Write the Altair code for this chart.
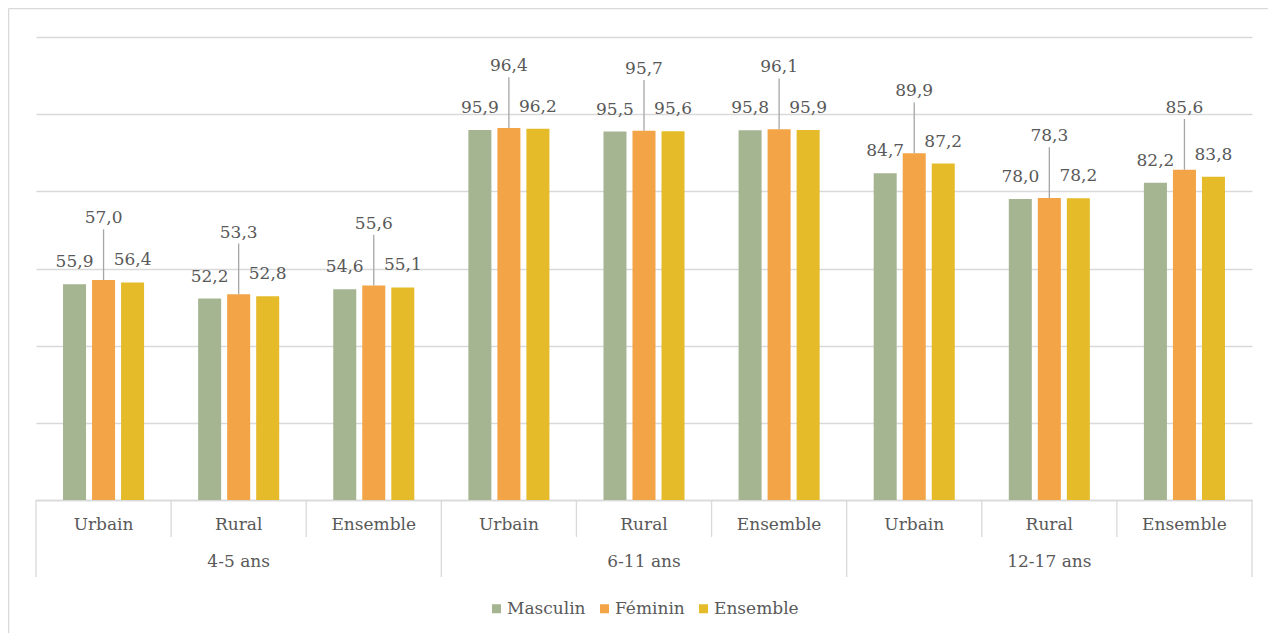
import altair as alt
import pandas as pd

groups = ["4-5 ans", "6-11 ans", "12-17 ans"]
areas = ["Urbain", "Rural", "Ensemble"]
series = ["Masculin", "Féminin", "Ensemble"]
colors = ["#A5B592", "#F2A446", "#E5BB2A"]

masculin = [55.9, 52.2, 54.6, 95.9, 95.5, 95.8, 84.7, 78.0, 82.2]
feminin = [57.0, 53.3, 55.6, 96.4, 95.7, 96.1, 89.9, 78.3, 85.6]
ensemble = [56.4, 52.8, 55.1, 96.2, 95.6, 95.9, 87.2, 78.2, 83.8]

FONT = "DejaVu Serif"
FS = 17
TXT = "#595959"
GRID = "#D9D9D9"

cats = [f"{g}|{a}" for g in groups for a in areas]

rows = []
for s, vals in zip(series, [masculin, feminin, ensemble]):
    for c, v in zip(cats, vals):
        rows.append({"cat": c, "serie": s, "value": v,
                     "label": f"{v:.1f}".replace(".", ",")})
df = pd.DataFrame(rows)

H = 463
x_scale = alt.Scale(domain=cats, paddingInner=0, paddingOuter=0)
xo_scale = alt.Scale(domain=series, paddingInner=0.207, paddingOuter=0.931)
y_scale = alt.Scale(domain=[0, 120], nice=False)

base = alt.Chart(df)

bars = base.mark_bar().encode(
    x=alt.X("cat:N", scale=x_scale, title=None,
            axis=alt.Axis(labelExpr="split(datum.value, '|')[1]", labelAngle=0,
                          labelFont=FONT, labelFontSize=FS, labelColor=TXT,
                          labelBaseline="middle", labelPadding=24,
                          ticks=False, domainColor=GRID, domainWidth=1.3,
                          grid=False)),
    xOffset=alt.XOffset("serie:N", scale=xo_scale),
    y=alt.Y("value:Q", scale=y_scale, title=None,
            axis=alt.Axis(values=[0, 20, 40, 60, 80, 100, 120], labels=False,
                          ticks=False, domain=False, grid=True,
                          gridColor=GRID, gridWidth=1.3)),
    color=alt.Color("serie:N", scale=alt.Scale(domain=series, range=colors),
                    legend=alt.Legend(title=None, orient="none", direction="horizontal",
                                      legendX=452, legendY=563, padding=0,
                                      symbolType="square", symbolSize=81,
                                      symbolStrokeWidth=0, labelOffset=2,
                                      columnPadding=10, labelFont=FONT,
                                      labelFontSize=FS, labelColor=TXT)),
)

side = base.transform_filter("datum.serie != 'Féminin'").mark_text(
    font=FONT, fontSize=FS, color=TXT, baseline="middle", dy=-22
).encode(
    x=alt.X("cat:N", scale=x_scale),
    xOffset=alt.XOffset("serie:N", scale=xo_scale),
    y=alt.Y("value:Q", scale=y_scale),
    text="label:N",
)

fem = base.transform_filter("datum.serie == 'Féminin'").transform_calculate(
    lab_y="datum.value + 16"
)
fem_text = fem.mark_text(font=FONT, fontSize=FS, color=TXT, baseline="middle").encode(
    x=alt.X("cat:N", scale=x_scale),
    xOffset=alt.XOffset("serie:N", scale=xo_scale),
    y=alt.Y("lab_y:Q", scale=y_scale),
    text="label:N",
)
fem_rule = fem.mark_rule(color="#A6A6A6", strokeWidth=1.3, y2Offset=11).encode(
    x=alt.X("cat:N", scale=x_scale),
    xOffset=alt.XOffset("serie:N", scale=xo_scale),
    y=alt.Y("value:Q", scale=y_scale),
    y2="lab_y:Q",
)

small_sep = pd.DataFrame({"cat": [c for i, c in enumerate(cats) if i % 3 != 0]})
big_sep = pd.DataFrame({"cat": [c for i, c in enumerate(cats) if i % 3 == 0]})
end_sep = pd.DataFrame({"cat": [cats[-1]]})

sep1 = alt.Chart(small_sep).mark_rule(color=GRID, strokeWidth=1.3).encode(
    x=alt.X("cat:N", scale=x_scale, bandPosition=0),
    y=alt.value(H), y2=alt.value(H + 37),
)
sep2 = alt.Chart(big_sep).mark_rule(color=GRID, strokeWidth=1.3).encode(
    x=alt.X("cat:N", scale=x_scale, bandPosition=0),
    y=alt.value(H), y2=alt.value(H + 77),
)
sep3 = alt.Chart(end_sep).mark_rule(color=GRID, strokeWidth=1.3).encode(
    x=alt.X("cat:N", scale=x_scale, bandPosition=1),
    y=alt.value(H), y2=alt.value(H + 77),
)

grp_df = pd.DataFrame({"cat": [f"{g}|{areas[1]}" for g in groups], "grp": groups})
grp_text = alt.Chart(grp_df).mark_text(font=FONT, fontSize=FS, color=TXT,
                                        baseline="middle").encode(
    x=alt.X("cat:N", scale=x_scale),
    y=alt.value(H + 62),
    text="grp:N",
)

frame_df = pd.DataFrame({"k": [0]})
frame_left = alt.Chart(frame_df).mark_rule(color=GRID, strokeWidth=1.5).encode(
    x=alt.value(-27.5), y=alt.value(-28.5), y2=alt.value(H + 140),
)
frame_top = alt.Chart(frame_df).mark_rule(color=GRID, strokeWidth=1.5).encode(
    x=alt.value(-27.5), x2=alt.value(1240), y=alt.value(-28.5),
)

chart = alt.layer(
    frame_left, frame_top, bars, side, fem_rule, fem_text, sep1, sep2, sep3, grp_text
).properties(
    width=1216, height=H,
    autosize=alt.AutoSizeParams(type="none"),
    padding={"left": 28, "top": 29, "right": 16, "bottom": 133},
).configure(
    background="white", font=FONT
).configure_view(stroke="transparent", strokeWidth=0)

chart.save("out.html", embed_options={"renderer": "svg", "actions": False})
